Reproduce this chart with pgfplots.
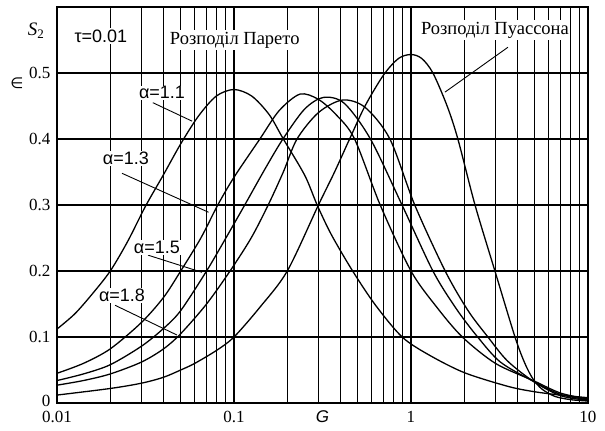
\documentclass[border=0pt]{standalone}
\usepackage{fontspec}
\setmainfont{Liberation Serif}
\newfontfamily\sansf{Liberation Sans}
\newfontfamily\djv{DejaVu Sans}
\usepackage{pgfplots}
\pgfplotsset{compat=1.18}
\newcommand{\tlab}[1]{\mbox{\fontsize{17}{19}\selectfont #1}}
\begin{document}
\begin{tikzpicture}
\begin{axis}[
    scale only axis,
    width=531pt, height=396pt,
    xmode=log, xmin=0.01, xmax=10,
    ymin=0, ymax=0.6,
    xtick={0.01,0.1,1,10},
    xticklabels={\tlab{0.01},\tlab{0.1},\tlab{1},\tlab{10}},
    minor xtick={0.02,0.03,0.04,0.05,0.06,0.07,0.08,0.09,
                 0.2,0.3,0.4,0.5,0.6,0.7,0.8,0.9,
                 2,3,4,5,6,7,8,9},
    ytick={0,0.1,0.2,0.3,0.4,0.5},
    yticklabels={\raisebox{-4pt}[0pt][0pt]{\tlab{0}},\tlab{0.1},\tlab{0.2},\tlab{0.3},\tlab{0.4},\tlab{0.5}},
    major tick length=0pt, minor tick length=0pt,
    xmajorgrids=true, xminorgrids=true, ymajorgrids=true,
    major grid style={black, line width=1.2pt},
    minor grid style={black, line width=1.2pt},
    axis line style={black, line width=1.4pt},
    yticklabel style={xshift=-3pt},
    xticklabel style={yshift=-7pt, inner sep=1pt},
    clip mode=individual,
]
% alpha = 1.1
\addplot[black, line width=1.3pt, smooth, mark=none] coordinates {
 (0.01,0.112) (0.0126,0.135) (0.0158,0.165) (0.02,0.2) (0.0251,0.245)
 (0.0316,0.298) (0.0398,0.345) (0.0501,0.393) (0.0631,0.435) (0.0794,0.465)
 (0.1,0.475) (0.126,0.465) (0.158,0.437) (0.19,0.4) (0.251,0.345)
 (0.295,0.3) (0.355,0.255) (0.468,0.2) (0.631,0.148) (0.891,0.1)
 (1.26,0.073) (2.0,0.046) (3.55,0.025) (5.0,0.017) (7.0,0.012) (10,0.008)
};
% alpha = 1.3
\addplot[black, line width=1.3pt, smooth, mark=none] coordinates {
 (0.01,0.045) (0.0141,0.06) (0.02,0.082) (0.03,0.122) (0.04,0.16) (0.05,0.2)
 (0.065,0.25) (0.081,0.3) (0.1,0.342) (0.14,0.4) (0.18,0.443) (0.236,0.468)
 (0.3,0.46) (0.38,0.436) (0.48,0.4) (0.67,0.3) (1.0,0.2) (1.4,0.145)
 (1.95,0.1) (3,0.06) (4.9,0.034) (7,0.015) (10,0.006)
};
% alpha = 1.5
\addplot[black, line width=1.3pt, smooth, mark=none] coordinates {
 (0.01,0.034) (0.0141,0.044) (0.02,0.058) (0.03,0.086) (0.04,0.113) (0.05,0.14)
 (0.07,0.2) (0.09,0.25) (0.115,0.3) (0.15,0.355) (0.189,0.4) (0.25,0.445)
 (0.32,0.463) (0.42,0.454) (0.59,0.4) (0.89,0.3) (1.33,0.2) (1.8,0.143)
 (2.38,0.1) (3.2,0.062) (4.9,0.033) (7,0.013) (10,0.005)
};
% alpha = 1.8
\addplot[black, line width=1.3pt, smooth, mark=none] coordinates {
 (0.01,0.027) (0.0141,0.034) (0.02,0.044) (0.03,0.062) (0.04,0.082) (0.05,0.105)
 (0.07,0.15) (0.095,0.2) (0.125,0.25) (0.156,0.3) (0.19,0.35) (0.227,0.4)
 (0.3,0.44) (0.41,0.459) (0.55,0.448) (0.76,0.4) (1.05,0.3) (1.56,0.2)
 (2.1,0.14) (2.72,0.1) (3.5,0.064) (4.9,0.033) (7,0.011) (10,0.004)
};
% Poisson
\addplot[black, line width=1.3pt, smooth, mark=none] coordinates {
 (0.01,0.012) (0.02,0.022) (0.03,0.03) (0.04,0.039) (0.05,0.05) (0.06,0.06)
 (0.08,0.08) (0.1,0.1) (0.14,0.145) (0.2,0.2) (0.3,0.3) (0.37,0.35)
 (0.45,0.4) (0.55,0.45) (0.7,0.497) (0.85,0.522) (1.0,0.528) (1.15,0.522)
 (1.33,0.5) (1.6,0.45) (1.84,0.4) (2.3,0.3) (2.98,0.2) (3.87,0.1)
 (4.4,0.06) (4.9,0.036) (5.5,0.021) (6.5,0.01) (8,0.005) (10,0.003)
};
% leader lines
\draw[black, line width=0.9pt] (axis cs:0.0348,0.455) -- (axis cs:0.058,0.427);
\draw[black, line width=0.9pt] (axis cs:0.0233,0.348) -- (axis cs:0.0718,0.289);
\draw[black, line width=0.9pt] (axis cs:0.0327,0.224) -- (axis cs:0.0659,0.198);
\draw[black, line width=0.9pt] (axis cs:0.0213,0.148) -- (axis cs:0.0476,0.103);
\draw[black, line width=0.9pt] (axis cs:3.53,0.539) -- (axis cs:1.556,0.471);
% labels
\node[fill=white, inner sep=1.5pt, font=\sansf\fontsize{18}{20}\selectfont] at (axis cs:0.0177,0.556) {τ=0.01};
\node[fill=white, inner sep=1.5pt, font=\fontsize{18.5}{20}\selectfont] at (axis cs:0.101,0.55) {Розподіл Парето};
\node[fill=white, inner sep=1.5pt, font=\fontsize{18.5}{20}\selectfont] at (axis cs:2.98,0.565) {Розподіл Пуассона};
\node[fill=white, inner sep=1pt, font=\sansf\fontsize{18}{20}\selectfont] at (axis cs:0.0392,0.47) {α=1.1};
\node[fill=white, inner sep=1pt, font=\sansf\fontsize{18}{20}\selectfont] at (axis cs:0.0245,0.371) {α=1.3};
\node[fill=white, inner sep=1pt, font=\sansf\fontsize{18}{20}\selectfont] at (axis cs:0.0367,0.236) {α=1.5};
\node[fill=white, inner sep=1pt, font=\sansf\fontsize{18}{20}\selectfont] at (axis cs:0.0233,0.163) {α=1.8};
% axis labels
\node[font=\fontsize{19}{20}\selectfont] at ([xshift=-21pt,yshift=-24pt]rel axis cs:0,1) {\textit{S}\raisebox{-3pt}{\fontsize{13}{14}\selectfont 2}};
\node[font=\djv\fontsize{15}{18}\selectfont] at ([xshift=-40pt,yshift=-76pt]rel axis cs:0,1) {∈};
\node[font=\sansf\itshape\fontsize{17}{18}\selectfont] at ([yshift=-14pt]rel axis cs:0.5,0) {G};
\end{axis}
\path ([xshift=-57pt,yshift=-28pt]current axis.south west) rectangle ([xshift=17pt,yshift=7pt]current axis.north east);
\end{tikzpicture}
\end{document}
